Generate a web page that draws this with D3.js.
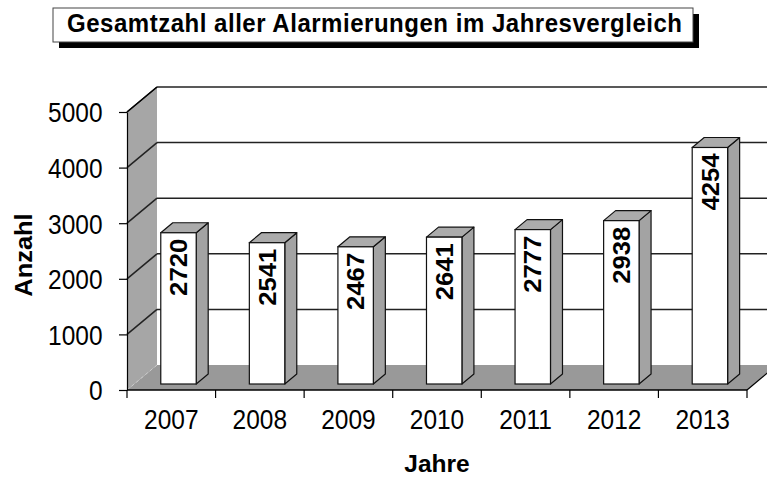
<!DOCTYPE html>
<html>
<head>
<meta charset="utf-8">
<script src="https://cdn.jsdelivr.net/npm/d3@7"></script>
<style>
  body { margin: 0; background: #fff; }
  svg { display: block; font-family: "Liberation Sans", Arial, sans-serif; }
</style>
</head>
<body>
<div id="chart"></div>
<script>
// data
var years = ["2007", "2008", "2009", "2010", "2011", "2012", "2013"];
var counts = [2720, 2541, 2467, 2641, 2777, 2938, 4254];
var yTicks = [0, 1000, 2000, 3000, 4000, 5000];

var width = 767, height = 477;

var svg = d3.select("#chart").append("svg")
    .attr("width", width)
    .attr("height", height);

// front plane of the 3d box
var x = d3.scaleBand().domain(years).range([127, 747]);
var y = d3.scaleLinear().domain([0, 5000]).range([390, 112]);

// depth of the box
var DX = 30, DY = -25;
var barF = 0.24, barD = 0.4, barW = 0.4;
var stretch = 1.12; // the text in the picture is a bit tall

// title box with shadow
svg.append("rect").attr("x", 59).attr("y", 14).attr("width", 640).attr("height", 34).attr("fill", "#000");
svg.append("rect").attr("x", 53).attr("y", 8).attr("width", 640).attr("height", 34)
    .attr("fill", "#fff").attr("stroke", "#444").attr("stroke-width", 1);
svg.append("text")
    .attr("transform", "translate(67,32) scale(1,1.06)")
    .attr("font-size", 24).attr("font-weight", "bold")
    .attr("textLength", 615).attr("lengthAdjust", "spacing")
    .text("Gesamtzahl aller Alarmierungen im Jahresvergleich");

var x0 = x.range()[0], x1 = x.range()[1];

// left wall
svg.append("polygon")
    .attr("points", [[x0, y(5000)], [x0 + DX, y(5000) + DY], [x0 + DX, y(0) + DY], [x0, y(0)]].join(" "))
    .attr("fill", "#a6a6a6");

// floor
svg.append("polygon")
    .attr("points", [[x0, y(0)], [x0 + DX, y(0) + DY], [x1 + DX, y(0) + DY], [x1, y(0)]].join(" "))
    .attr("fill", "#999");

svg.append("line")
    .attr("x1", x0).attr("y1", y(0)).attr("x2", x0 + DX).attr("y2", y(0) + DY)
    .attr("stroke", "#ccc").attr("stroke-dasharray", "3,3");

// grid lines: diagonal on the wall, horizontal on the back wall
var grid = yTicks.filter(function(d) { return d > 0; });
svg.selectAll(".gw").data(grid).enter().append("line")
    .attr("x1", x0).attr("y1", d => y(d))
    .attr("x2", x0 + DX).attr("y2", d => y(d) + DY)
    .attr("stroke", "#222").attr("stroke-width", 1.5);
svg.selectAll(".gb").data(grid).enter().append("line")
    .attr("x1", x0 + DX).attr("y1", d => y(d) + DY)
    .attr("x2", width + 5).attr("y2", d => y(d) + DY)
    .attr("stroke", "#222").attr("stroke-width", 1.5);

// floor right edge
svg.append("line")
    .attr("x1", x1).attr("y1", y(0)).attr("x2", x1 + DX).attr("y2", y(0) + DY)
    .attr("stroke", "#000").attr("stroke-width", 1.2);

// bars
var bars = svg.selectAll(".bar").data(counts).enter().append("g");
bars.each(function(d, i) {
    var g = d3.select(this);
    var bx = x(years[i]) + x.bandwidth() * (1 - barW) / 2 + DX * barF;
    var by = y(0) + DY * barF;
    var bw = x.bandwidth() * barW;
    var top = by - (y(0) - y(d));
    var ddx = DX * barD, ddy = DY * barD;
    // side
    g.append("polygon")
        .attr("points", [[bx + bw, by], [bx + bw + ddx, by + ddy], [bx + bw + ddx, top + ddy], [bx + bw, top]].join(" "))
        .attr("fill", "#a3a3a3").attr("stroke", "#111").attr("stroke-width", 1.2).attr("stroke-linejoin", "round");
    // top
    g.append("polygon")
        .attr("points", [[bx, top], [bx + ddx, top + ddy], [bx + bw + ddx, top + ddy], [bx + bw, top]].join(" "))
        .attr("fill", "#ababab").attr("stroke", "#111").attr("stroke-width", 1.2).attr("stroke-linejoin", "round");
    // front
    g.append("rect")
        .attr("x", bx).attr("y", top).attr("width", bw).attr("height", by - top)
        .attr("fill", "#fff").attr("stroke", "#111").attr("stroke-width", 1.2);
    g.append("text")
        .attr("transform", "translate(" + (bx + bw / 2) + "," + (top + 6) + ") rotate(-90) scale(1.07,1)")
        .attr("text-anchor", "end").attr("dy", "0.36em")
        .attr("font-size", 24).attr("font-weight", "bold")
        .text(d);
});

// y axis
var yAxis = svg.append("g")
    .attr("transform", "translate(" + x0 + ",0)")
    .call(d3.axisLeft(y).tickValues(yTicks).tickFormat(d3.format("d"))
        .tickSize(8).tickSizeOuter(0).tickPadding(16));
yAxis.select(".domain").attr("stroke", "#000").attr("stroke-width", 1.2);
yAxis.selectAll(".tick line").attr("stroke", "#000").attr("stroke-width", 1.2);
yAxis.selectAll(".tick text")
    .attr("font-size", 24.5).attr("font-family", null).attr("fill", "#000")
    .attr("dy", "0.36em").attr("x", -24.5)
    .attr("transform", "scale(1," + stretch + ")");

// wall top edge
svg.append("line")
    .attr("x1", x0).attr("y1", y(5000)).attr("x2", x0 + DX).attr("y2", y(5000) + DY)
    .attr("stroke", "#000").attr("stroke-width", 1.2);

// x axis: line, ticks at category boundaries, labels at centres
svg.append("line")
    .attr("x1", x0).attr("y1", y(0)).attr("x2", x1).attr("y2", y(0))
    .attr("stroke", "#000").attr("stroke-width", 1.5);
var bounds = years.map(d => x(d)).concat([x1]);
svg.selectAll(".xt").data(bounds).enter().append("line")
    .attr("x1", d => d).attr("x2", d => d)
    .attr("y1", y(0)).attr("y2", y(0) + 8)
    .attr("stroke", "#000").attr("stroke-width", 1.2);
svg.selectAll(".xl").data(years).enter().append("text")
    .attr("transform", d => "translate(" + (x(d) + x.bandwidth() / 2) + ",428.5) scale(1," + stretch + ")")
    .attr("text-anchor", "middle")
    .attr("font-size", 24.5)
    .text(d => d);

// axis titles
svg.append("text")
    .attr("transform", "translate(32,255) rotate(-90) scale(1.06,1)")
    .attr("text-anchor", "middle")
    .attr("font-size", 24).attr("font-weight", "bold")
    .text("Anzahl");
svg.append("text")
    .attr("x", 437).attr("y", 472)
    .attr("text-anchor", "middle")
    .attr("font-size", 24.5).attr("font-weight", "bold")
    .text("Jahre");
</script>
</body>
</html>
